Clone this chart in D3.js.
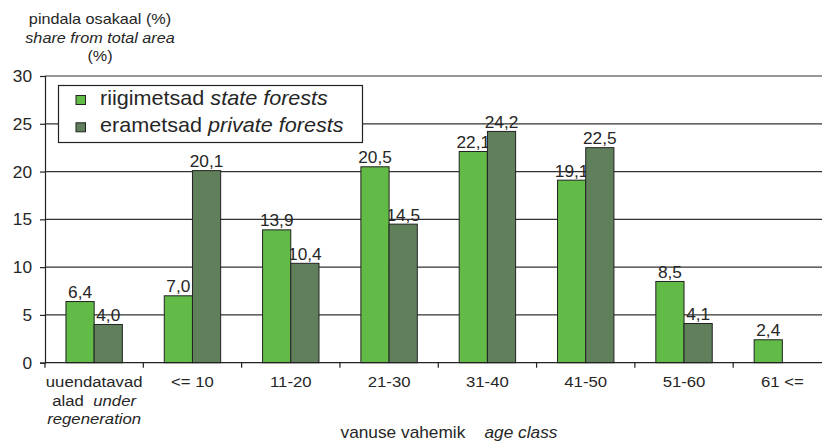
<!DOCTYPE html>
<html><head><meta charset="utf-8">
<script src="https://cdn.jsdelivr.net/npm/d3@7"></script>
<style>body{margin:0;background:#fff}svg{display:block}text{font-family:"Liberation Sans",Arial,sans-serif;fill:#262626;white-space:pre}</style>
</head><body><svg id="c" width="822" height="444"></svg>
<script>
const categories = ["uuendatavad", "<= 10", "11-20", "21-30", "31-40", "41-50", "51-60", "61 <="];
const stateForests = [6.4, 7.0, 13.9, 20.5, 22.1, 19.1, 8.5, 2.4];
const privateForests = [4.0, 20.1, 10.4, 14.5, 24.2, 22.5, 4.1, null];
const yTicks = [0, 5, 10, 15, 20, 25, 30];
const seriesNames = [["riigimetsad ", "state forests"], ["erametsad ", "private forests"]];
const colors = ["#62ba47", "#60805c"];

const SX = 1.08;
const svg = d3.select("#c");
const x = d3.scaleBand().domain(categories).range([45, 831.5]).paddingInner(0).paddingOuter(0);
const y = d3.scaleLinear().domain([0, 30]).range([362.7, 76]);
const bw = 28.2;
const off = (x.bandwidth() - 2 * bw) / 2;

function txt(g, xx, yy, size, anchor) {
  return g.append("text").attr("transform", `translate(${xx},${yy}) scale(${SX},1)`)
    .attr("xml:space", "preserve")
    .attr("font-size", size).attr("text-anchor", anchor || "middle");
}

// y axis title
txt(svg, 100, 24, 15).text("pindala osakaal (%)");
txt(svg, 100, 42.5, 15).attr("font-style", "italic").text("share from total area");
txt(svg, 100, 60.5, 15).text("(%)");

// gridlines
svg.append("g").selectAll("line").data(yTicks.filter(d => d > 0)).join("line")
  .attr("x1", 45).attr("x2", 831).attr("y1", d => y(d)).attr("y2", d => y(d))
  .attr("stroke", "#333").attr("stroke-width", 1.2);

// y axis
const yAxis = svg.append("g").attr("transform", "translate(45,0)")
  .call(d3.axisLeft(y).tickValues(yTicks).tickSize(5).tickPadding(8));
yAxis.select(".domain").attr("stroke", "#222").attr("stroke-width", 1.2);
yAxis.selectAll(".tick line").attr("stroke", "#222").attr("stroke-width", 1.2);
yAxis.selectAll(".tick text").remove();
yTicks.forEach(t => txt(svg, 32, y(t) + 6, 16, "end").text(t));

// value labels
const fmt = v => v.toFixed(1).replace(".", ",");
const lab = svg.append("g");
categories.forEach((c, i) => {
  const xs = x(c) + off;
  if (stateForests[i] != null) txt(lab, xs + bw / 2, y(stateForests[i]) - 3.5, 16).text(fmt(stateForests[i]));
  if (privateForests[i] != null) txt(lab, xs + bw * 1.5, y(privateForests[i]) - 3.5, 16).text(fmt(privateForests[i]));
});

// bars
const bars = svg.append("g");
bars.selectAll("rect.s").data(categories).join("rect").attr("class", "s")
  .attr("x", d => x(d) + off).attr("width", bw)
  .attr("y", (d, i) => y(stateForests[i])).attr("height", (d, i) => y(0) - y(stateForests[i]))
  .attr("fill", colors[0]).attr("stroke", "#222").attr("stroke-width", 1);
bars.selectAll("rect.p").data(categories.filter((d, i) => privateForests[i] != null)).join("rect").attr("class", "p")
  .attr("x", d => x(d) + off + bw).attr("width", bw)
  .attr("y", d => y(privateForests[categories.indexOf(d)]))
  .attr("height", d => y(0) - y(privateForests[categories.indexOf(d)]))
  .attr("fill", colors[1]).attr("stroke", "#222").attr("stroke-width", 1);

// x axis
const xAxis = svg.append("g").attr("transform", `translate(0,${y(0)})`)
  .call(d3.axisBottom(x).tickSize(0));
xAxis.select(".domain").remove();
xAxis.selectAll(".tick text").remove();
svg.append("line").attr("x1", 45).attr("x2", 831).attr("y1", y(0)).attr("y2", y(0))
  .attr("stroke", "#222").attr("stroke-width", 1.2);
svg.append("g").selectAll("line").data(d3.range(categories.length + 1)).join("line")
  .attr("x1", d => 45 + d * x.bandwidth()).attr("x2", d => 45 + d * x.bandwidth())
  .attr("y1", y(0)).attr("y2", y(0) + 5).attr("stroke", "#222").attr("stroke-width", 1.2);

// category labels
categories.forEach((c, i) => {
  const cx = x(c) + x.bandwidth() / 2;
  if (i === 0) {
    txt(svg, cx, 386.5, 15.5).text("uuendatavad");
    const t2 = txt(svg, cx, 405.5, 15.5);
    t2.append("tspan").text("alad  ");
    t2.append("tspan").attr("font-style", "italic").text("under");
    txt(svg, cx, 423.5, 15.5).attr("font-style", "italic").text("regeneration");
  } else {
    txt(svg, cx, 386.5, 15.5).text(c);
  }
});

// x title
const xt = txt(svg, 449, 438, 16);
xt.append("tspan").text("vanuse vahemik    ");
xt.append("tspan").attr("font-style", "italic").text("age class");

// legend
const lg = svg.append("g");
lg.append("rect").attr("x", 58.5).attr("y", 85.5).attr("width", 304).attr("height", 57)
  .attr("fill", "#fff").attr("stroke", "#222").attr("stroke-width", 1.2);
seriesNames.forEach((s, i) => {
  const yy = 104.5 + i * 27.3;
  lg.append("rect").attr("x", 76).attr("y", yy - 9).attr("width", 9.5).attr("height", 9)
    .attr("fill", colors[i]).attr("stroke", "#222").attr("stroke-width", 1);
  const t = txt(lg, 100, yy, 20, "start");
  t.append("tspan").text(s[0]);
  t.append("tspan").attr("font-style", "italic").text(s[1]);
});
</script></body></html>
